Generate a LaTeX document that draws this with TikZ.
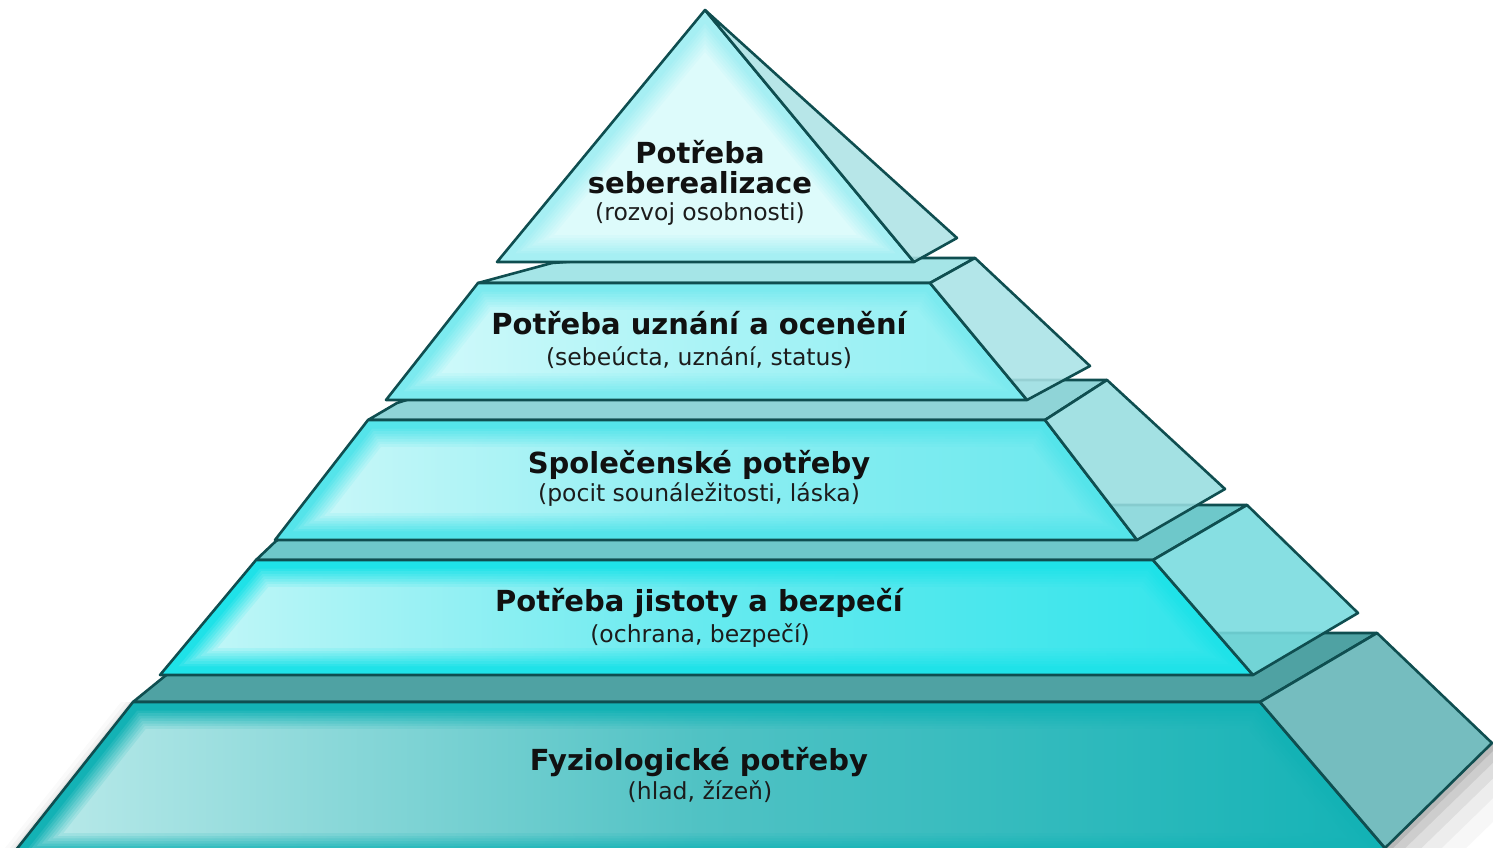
\documentclass[tikz,border=0pt]{standalone}
\usepackage{fontspec}
\setmainfont{DejaVu Sans}
\usetikzlibrary{calc}
\definecolor{edgec}{HTML}{0F4E50}
\definecolor{txt}{HTML}{111111}
\definecolor{subtxt}{HTML}{1C1C1C}
% tier 5 (bottom)
\definecolor{fbE}{HTML}{13B2B5}\definecolor{fbL}{HTML}{B5E8E8}\definecolor{fbM}{HTML}{50C2C4}\definecolor{fbR}{HTML}{18B4B7}
\definecolor{tpE}{HTML}{4FA2A3}\definecolor{sdE}{HTML}{62B5B7}
% tier 4
\definecolor{fbD}{HTML}{1FE2E8}\definecolor{flD}{HTML}{BEF6F7}\definecolor{fmD}{HTML}{66EAEF}\definecolor{frD}{HTML}{36E5EB}
\definecolor{tpD}{HTML}{6EC8CA}\definecolor{sdD}{HTML}{77DBDE}
% tier 3
\definecolor{fbC}{HTML}{55E4EA}\definecolor{flC}{HTML}{C6F7F8}\definecolor{fmC}{HTML}{8CEEF2}\definecolor{frC}{HTML}{6EE9EE}
\definecolor{tpC}{HTML}{8FD4D7}\definecolor{sdC}{HTML}{97DDE0}
% tier 2
\definecolor{fbB}{HTML}{7CEAEF}\definecolor{flB}{HTML}{CDF9FA}\definecolor{fmB}{HTML}{AAF3F6}\definecolor{frB}{HTML}{95F0F3}
\definecolor{tpB}{HTML}{A5E5E7}\definecolor{sdB}{HTML}{A9E3E6}
% tier 1
\definecolor{fbA}{HTML}{A6EFF3}\definecolor{flA}{HTML}{DDFBFB}\definecolor{sdA}{HTML}{AEE3E5}

\tikzset{
  outl/.style={draw=edgec, line width=2.6pt, line join=round},
  sideface/.style={outl, fill opacity=0.88},
  title/.style={font=\fontsize{29}{32}\selectfont\bfseries, text=txt, inner sep=0pt, anchor=base},
  subt/.style={font=\fontsize{23.5}{27}\selectfont, text=subtxt, inner sep=0pt, anchor=base},
}

% glowing trapezoid: TLx TRx BRx BLx ytop ybot base lightleft lightright ; middle colour in gmid
\newcommand{\glowtrap}[9]{%
  \fill[#7] (#1,#5) -- (#2,#5) -- (#3,#6) -- (#4,#6) -- cycle;
  \pgfmathsetmacro{\gsL}{(#1-#4)/(#6-#5)}%
  \pgfmathsetmacro{\gsR}{(#3-#2)/(#6-#5)}%
  \foreach \gk in {1,...,8}{%
    \pgfmathsetmacro{\gd}{6+2.6*\gk}%
    \pgfmathsetmacro{\ghL}{\gd*sqrt(1+\gsL*\gsL)}%
    \pgfmathsetmacro{\ghR}{\gd*sqrt(1+\gsR*\gsR)}%
    \pgfmathsetmacro{\gxa}{#1-\gsL*\gd+\ghL}%
    \pgfmathsetmacro{\gxb}{#2+\gsR*\gd-\ghR}%
    \pgfmathsetmacro{\gxc}{#3-\gsR*\gd-\ghR}%
    \pgfmathsetmacro{\gxd}{#4+\gsL*\gd+\ghL}%
    \pgfmathsetmacro{\gya}{#5+\gd}%
    \pgfmathsetmacro{\gyb}{#6-\gd}%
    \pgfmathtruncatemacro{\gp}{12.5*\gk}%
    \shade[left color=#8!\gp!#7, right color=#9!\gp!#7, middle color=gmid!\gp!#7]
      (\gxa,\gya) -- (\gxb,\gya) -- (\gxc,\gyb) -- (\gxd,\gyb) -- cycle;
  }%
  \draw[outl] (#1,#5) -- (#2,#5) -- (#3,#6) -- (#4,#6) -- cycle;
}

\begin{document}
\begin{tikzpicture}[x=1pt,y=-1pt]
\useasboundingbox (0,0) rectangle (1493,848);
\fill[white] (0,0) rectangle (1493,848);

% ---------- shadows ----------
\foreach \s/\o in {4/0.10,10/0.08,18/0.06,28/0.04,40/0.03}{
  \fill[black, opacity=\o] (1385,848) -- (1492,743) -- (1493+\s,743+\s) -- (1385+\s,848+\s) -- cycle;
}
\foreach \s/\o in {3/0.05,7/0.03,12/0.02}{
  \fill[black, opacity=\o] (133-\s,702) -- (17-\s,848) -- (17,848) -- (133,702) -- cycle;
}

% ---------- tier 5 ----------
\coordinate (e5fl) at (133,702); \coordinate (e5fr) at (1260,702);
\coordinate (e5bl) at (17,848);  \coordinate (e5br) at (1385,848);
\coordinate (e5p) at (165,676);  \coordinate (e5q) at (230,633);
\coordinate (e5k) at (1377,633); \coordinate (e5s) at (1492,743);
\draw[outl, fill=tpE] (e5fl) -- (e5p) -- (e5q) -- (e5k) -- (e5fr) -- cycle;
\colorlet{gmid}{fbM}
\glowtrap{133}{1260}{1395}{8}{702}{860}{fbE}{fbL}{fbR}
\draw[sideface, fill=sdE] (e5fr) -- (e5k) -- (e5s) -- (e5br) -- cycle;

% ---------- tier 4 ----------
\coordinate (e4fl) at (256,560); \coordinate (e4fr) at (1153,560);
\coordinate (e4p) at (276,541);  \coordinate (e4q) at (340,505);
\coordinate (e4k) at (1247,505); \coordinate (e4s) at (1358,613);
\coordinate (e4br) at (1253,675);
\draw[outl, fill=tpD] (e4fl) -- (e4p) -- (e4q) -- (e4k) -- (e4fr) -- cycle;
\colorlet{gmid}{fmD}
\glowtrap{256}{1153}{1253}{160}{560}{675}{fbD}{flD}{frD}
\draw[sideface, fill=sdD] (e4fr) -- (e4k) -- (e4s) -- (e4br) -- cycle;

% ---------- tier 3 ----------
\coordinate (e3fl) at (368,420); \coordinate (e3fr) at (1045,420);
\coordinate (e3p) at (397,403);  \coordinate (e3q) at (470,380);
\coordinate (e3k) at (1107,380); \coordinate (e3s) at (1225,489);
\coordinate (e3br) at (1137,540);
\draw[outl, fill=tpC] (e3fl) -- (e3p) -- (e3q) -- (e3k) -- (e3fr) -- cycle;
\colorlet{gmid}{fmC}
\glowtrap{368}{1045}{1137}{275}{420}{540}{fbC}{flC}{frC}
\draw[sideface, fill=sdC] (e3fr) -- (e3k) -- (e3s) -- (e3br) -- cycle;

% ---------- tier 2 ----------
\coordinate (e2fl) at (478,283); \coordinate (e2fr) at (930,283);
\coordinate (e2p) at (552,263);  \coordinate (e2q) at (620,258);
\coordinate (e2k) at (975,258);  \coordinate (e2s) at (1090,366);
\coordinate (e2br) at (1027,400);
\draw[outl, fill=tpB] (e2fl) -- (e2p) -- (e2q) -- (e2k) -- (e2fr) -- cycle;
\colorlet{gmid}{fmB}
\glowtrap{478}{930}{1027}{386}{283}{400}{fbB}{flB}{frB}
\draw[sideface, fill=sdB] (e2fr) -- (e2k) -- (e2s) -- (e2br) -- cycle;

% ---------- tier 1 (triangle) ----------
\coordinate (apex) at (705,10); \coordinate (e1bl) at (497,262);
\coordinate (e1br) at (914,262); \coordinate (e1s) at (957,238);
\coordinate (inc) at (705.2,163.9);
\fill[fbA] (apex) -- (e1br) -- (e1bl) -- cycle;
\foreach \gk in {1,...,8}{
  \pgfmathsetmacro{\gf}{(98.1-(6+2.6*\gk))/98.1}
  \pgfmathtruncatemacro{\gp}{12.5*\gk}
  \fill[flA!\gp!fbA] ($(inc)!\gf!(apex)$) -- ($(inc)!\gf!(e1br)$) -- ($(inc)!\gf!(e1bl)$) -- cycle;
}
\draw[outl] (apex) -- (e1br) -- (e1bl) -- cycle;
\draw[sideface, fill=sdA] (apex) -- (e1s) -- (e1br) -- cycle;

% ---------- texts ----------
\node[title] (n1a) at (700,163) {Potřeba};
\node[title] (n1b) at (700,193) {seberealizace};
\node[subt]  (n1c) at (700,220) {(rozvoj osobnosti)};
\node[title] (n2a) at (699,334) {Potřeba uznání a ocenění};
\node[subt]  (n2b) at (699,365) {(sebeúcta, uznání, status)};
\node[title] (n3a) at (699,473) {Společenské potřeby};
\node[subt]  (n3b) at (699,501) {(pocit sounáležitosti, láska)};
\node[title] (n4a) at (699,611) {Potřeba jistoty a bezpečí};
\node[subt]  (n4b) at (700,642) {(ochrana, bezpečí)};
\node[title] (n5a) at (699,770) {Fyziologické potřeby};
\node[subt]  (n5b) at (700,799) {(hlad, žízeň)};
\end{tikzpicture}
\end{document}
